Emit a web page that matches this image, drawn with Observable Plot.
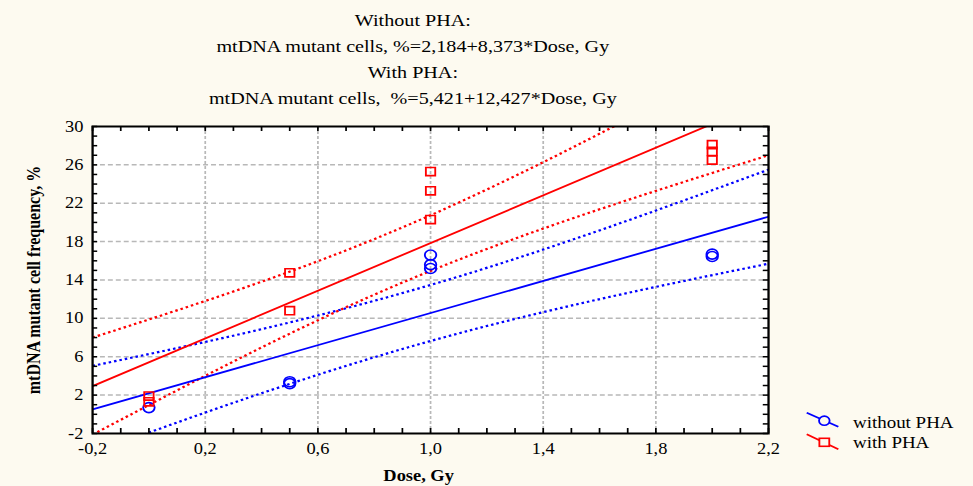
<!DOCTYPE html>
<html><head><meta charset="utf-8">
<script src="https://cdn.jsdelivr.net/npm/d3@7"></script>
<script src="https://cdn.jsdelivr.net/npm/@observablehq/plot@0.6"></script>
<style>
html,body{margin:0;padding:0;background:#fdfaf0;}
#wrap{width:973px;height:486px;overflow:hidden;position:relative;background:#fdfaf0;}
#inner{position:absolute;left:0;top:0;transform-origin:0 0;font-family:"Liberation Serif","Times New Roman",serif;color:#000;}
#title{height:115px;box-sizing:border-box;padding-top:7px;font-size:17.5px;line-height:26px;text-align:center;white-space:pre;}
#legend{position:absolute;overflow:visible;}
</style></head>
<body><div id="wrap"><div id="inner"><div id="title"></div><div id="chart"></div><svg id="legend"></svg></div></div>
<script>
// ---------- data ----------
const titleLines = [
  "Without PHA:",
  "mtDNA mutant cells, %=2,184+8,373*Dose, Gy",
  "With PHA:",
  "mtDNA mutant cells,  %=5,421+12,427*Dose, Gy"
];
const xLabel = "Dose, Gy";
const yLabel = "mtDNA mutant cell frequency, %";
const seriesNames = ["without PHA", "with PHA"];
const xTickValues = [-0.2, 0.2, 0.6, 1.0, 1.4, 1.8, 2.2];
const yTickValues = [-2, 2, 6, 10, 14, 18, 22, 26, 30];

// observations
const blueDose = [0, 0.5, 0.5, 1, 1, 1, 2, 2];
const blueFreq = [0.7, 3.2, 3.4, 16.6, 15.6, 15.2, 16.7, 16.45];
const redDose  = [0, 0, 0.5, 0.5, 1, 1, 1, 2, 2, 2];
const redFreq  = [1.9, 1.3, 14.75, 10.8, 25.3, 23.3, 20.3, 28.1, 27.4, 26.5];

// regression lines (end points)
const fitX    = [-0.2, 2.2];
const blueFit = [0.51, 20.60];
const redFit  = [2.94, 32.76];

// confidence bands (dotted)
const bandX     = [-0.2, 0.2, 0.6, 1.0, 1.4, 1.8, 2.2];
const blueUpper = [5.05, 7.54, 10.30, 13.48, 17.17, 21.24, 25.50];
const blueLower = [-4.03, 0.18, 4.12, 7.64, 10.65, 13.28, 15.70];
const redUpper  = [8.00, 11.81, 15.96, 20.75, 26.28, 32.29, 38.52];
const redLower  = [-2.12, 4.01, 9.80, 14.95, 19.36, 23.29, 27.00];

// ---------- layout ----------
const S = 1.15;            // horizontal stretch of the reference
const W = 973 / S;
const H = 371;
const mL = 80, mR = W - 667.8, mT = 11, mB = 53;
const frameW = W - mL - mR, frameH = H - mT - mB;
const BLUE = "#0000ff", RED = "#ff0000";

document.getElementById("inner").style.width = W + "px";
document.getElementById("inner").style.transform = `scale(${S},1)`;
document.getElementById("title").textContent = titleLines.join("\n");
document.getElementById("title").style.width = (2 * 359) + "px";

const pts = (xs, ys) => xs.map((x, i) => ({x, y: ys[i]}));
const fmt = d => d.toFixed(1).replace(".", ",");
const xMinor = d3.range(-2, 23).map(i => i / 10);
const yMinor = d3.range(-2, 31);
const xGrid = xTickValues.slice(1, -1);
const yGrid = yTickValues.slice(1, -1);

const dotted = {x: "x", y: "y", clip: true, strokeWidth: 2.2, strokeDasharray: "2.2,2.6", strokeLinecap: "butt", curve: "natural"};
const solid = {x: "x", y: "y", clip: true, strokeWidth: 1.8};

const chart = Plot.plot({
  width: W, height: H,
  marginLeft: mL, marginRight: mR, marginTop: mT, marginBottom: mB,
  style: {background: "transparent", fontFamily: "Liberation Serif, Times New Roman, serif", fontSize: "16px", color: "black", overflow: "visible"},
  x: {domain: [-0.2, 2.2]},
  y: {domain: [-2, 30]},
  marks: [
    Plot.frame({fill: "white"}),
    Plot.ruleX(xGrid, {x: d => d, stroke: "#b8b8b8", strokeWidth: 1.5, strokeDasharray: "3,2"}),
    Plot.ruleY(yGrid, {y: d => d, stroke: "#b8b8b8", strokeWidth: 1.5, strokeDasharray: "4.3,2.6"}),
    Plot.line(pts(bandX, blueUpper), {...dotted, stroke: BLUE}),
    Plot.line(pts(bandX, blueLower), {...dotted, stroke: BLUE}),
    Plot.line(pts(bandX, redUpper), {...dotted, stroke: RED}),
    Plot.line(pts(bandX, redLower), {...dotted, stroke: RED}),
    Plot.line(pts(fitX, blueFit), {...solid, stroke: BLUE}),
    Plot.line(pts(fitX, redFit), {...solid, stroke: RED}),
    Plot.dot(pts(blueDose, blueFreq), {x: "x", y: "y", symbol: "circle", r: 5, stroke: BLUE, fill: "none", strokeWidth: 1.6}),
    Plot.dot(pts(redDose, redFreq), {x: "x", y: "y", symbol: "square", r: 4.6, stroke: RED, fill: "none", strokeWidth: 1.6}),
    Plot.frame({stroke: "black", strokeWidth: 2}),
    Plot.tickX(xMinor, {x: d => d, insetTop: frameH - 5, stroke: "black", strokeWidth: 1.5}),
    Plot.tickX(xMinor, {x: d => d, insetBottom: frameH - 5, stroke: "black", strokeWidth: 1.5}),
    Plot.tickY(yMinor, {y: d => d, insetRight: frameW - 4.5, stroke: "black", strokeWidth: 1.5}),
    Plot.tickY(yMinor, {y: d => d, insetLeft: frameW - 4.5, stroke: "black", strokeWidth: 1.5}),
    Plot.axisX({ticks: xTickValues, tickSize: 0, tickPadding: 9, tickFormat: fmt, label: null, fontSize: 16}),
    Plot.axisY({ticks: yTickValues, tickSize: 0, tickPadding: 8, tickFormat: d => String(d), label: null, fontSize: 16}),
    Plot.text([xLabel], {text: d => d, frameAnchor: "bottom", textAnchor: "middle", lineAnchor: "middle", dx: -10.4, dy: 42, fontWeight: "bold", fontSize: 16}),
    Plot.text([yLabel], {text: d => d, frameAnchor: "left", textAnchor: "middle", lineAnchor: "middle", dx: -51, rotate: -90, fontWeight: "bold", fontSize: 16})
  ]
});
document.getElementById("chart").appendChild(chart);

// ---------- legend ----------
const lg = d3.select("#legend")
  .style("left", "695px").style("top", "405px")
  .attr("width", 150).attr("height", 50);
const items = [
  {name: seriesNames[0], color: BLUE, sym: "circle", y0: 7.7, y1: 21.7, cy: 15.7, ty: 17},
  {name: seriesNames[1], color: RED, sym: "square", y0: 29.3, y1: 44.3, cy: 37.3, ty: 37}
];
for (const it of items) {
  lg.append("line").attr("x1", 6.5).attr("y1", it.y0).attr("x2", 34).attr("y2", it.y1)
    .attr("stroke", it.color).attr("stroke-width", 1.7);
  if (it.sym === "circle") {
    lg.append("circle").attr("cx", 21.8).attr("cy", it.cy).attr("r", 4.6)
      .attr("fill", "#fdfaf0").attr("stroke", it.color).attr("stroke-width", 1.6);
  } else {
    lg.append("rect").attr("x", 21.8 - 4.3).attr("y", it.cy - 4).attr("width", 8.6).attr("height", 8)
      .attr("fill", "#fdfaf0").attr("stroke", it.color).attr("stroke-width", 1.6);
  }
  lg.append("text").attr("x", 46.7).attr("y", it.ty).attr("dominant-baseline", "central")
    .attr("font-family", "Liberation Serif, Times New Roman, serif").attr("font-size", 16.5)
    .text(it.name);
}
</script>
</body></html>
